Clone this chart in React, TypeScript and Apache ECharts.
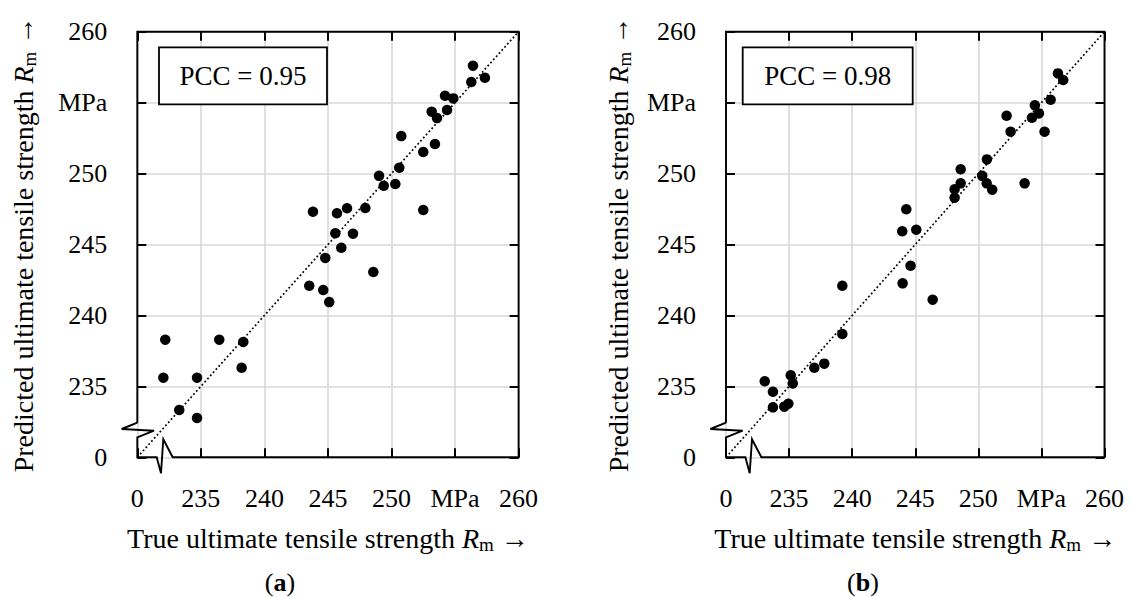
import React, { useEffect, useRef } from "react";
import * as echarts from "echarts";

// ---- data ----
const tickLabels = ["0", "235", "240", "245", "250", "MPa", "260"];
const axisMin = 230;
const axisMax = 260;
const axisStep = 5;
const panelLetters = ["a", "b"];
const pccValues = ["0.95", "0.98"];

const aTrue = [
  256.41, 257.35, 256.28, 254.21, 254.86, 254.37, 253.16, 253.58, 250.77, 253.42,
  252.5, 250.61, 249.02, 249.39, 250.3, 243.82, 245.71, 246.5, 247.94, 252.5,
  245.58, 246.97, 246.05, 244.79, 248.57, 243.53, 244.63, 245.1, 232.2, 236.45,
  238.34, 238.21, 232.05, 234.7, 233.3, 234.7,
];
const aPred = [
  257.6, 256.75, 256.45, 255.48, 255.3, 254.48, 254.36, 253.91, 252.64, 252.08,
  251.52, 250.41, 249.84, 249.14, 249.26, 247.31, 247.2, 247.55, 247.57, 247.43,
  245.79, 245.76, 244.77, 244.05, 243.06, 242.09, 241.79, 240.94, 238.29, 238.29,
  238.13, 236.31, 235.61, 235.61, 233.33, 232.77,
];
const bTrue = [
  256.31, 256.73, 255.73, 254.48, 254.8, 254.25, 252.24, 252.56, 255.25, 250.68,
  248.6, 250.31, 248.6, 250.66, 251.1, 253.67, 248.12, 248.12, 244.29, 243.97,
  245.08, 244.63, 244.0, 246.38, 239.22, 239.22, 237.0, 237.79, 235.13, 235.29,
  233.07, 233.72, 233.72, 234.62, 234.94,
];
const bPred = [
  257.06, 256.59, 255.2, 254.81, 254.24, 253.93, 254.07, 252.95, 252.95, 251.0,
  250.3, 249.84, 249.31, 249.31, 248.86, 249.31, 248.89, 248.3, 247.48, 245.93,
  246.04, 243.5, 242.26, 241.11, 242.09, 238.69, 236.31, 236.6, 235.78, 235.21,
  235.36, 234.62, 233.52, 233.57, 233.78,
];

// ---- layout / style ----
const FONT = "Liberation Serif, DejaVu Serif, serif";
const grids = [
  { left: 137.3, top: 31.7, width: 381.3, height: 425.6, yNameGap: 98, boxX: 159, boxW: 168, capX: 280 },
  { left: 726, top: 31.7, width: 378.5, height: 425.6, yNameGap: 92, boxX: 742.7, boxW: 170, capX: 863 },
];

const fmt = (v: number) => tickLabels[Math.round((v - axisMin) / axisStep)] ?? "";

const nameStyle = {
  fontFamily: FONT,
  fontSize: 28,
  color: "#000",
  lineHeight: 32,
  rich: {
    i: { fontFamily: FONT, fontSize: 28, fontStyle: "italic", color: "#000", lineHeight: 32 },
    s: { fontFamily: FONT, fontSize: 19, color: "#000", lineHeight: 18, verticalAlign: "bottom" },
  },
};

function frameGraphic(g: typeof grids[number]) {
  const ox = g.left;
  const oy = g.top + g.height;
  const tx = g.left + g.width;
  const ty = g.top;
  const pts = [
    [ox, oy - 34.6],
    [ox, ty],
    [tx, ty],
    [tx, oy],
    [ox + 35.4, oy],
    [ox + 26, oy - 18],
    [ox + 23.7, oy + 16],
    [ox + 19.4, oy],
    [ox, oy],
    [ox, oy - 20],
    [ox + 16.7, oy - 26.6],
    [ox - 15.6, oy - 28.3],
    [ox, oy - 34.6],
  ];
  return {
    type: "polyline",
    z: 50,
    silent: true,
    shape: { points: pts },
    style: { stroke: "#000", lineWidth: 1.9, fill: null, lineJoin: "miter" },
  };
}

export default function App() {
  const ref = useRef<HTMLDivElement>(null);
  useEffect(() => {
    if (!ref.current) return;
    const chart = echarts.init(ref.current, undefined, { renderer: "svg" });

    const xAxis: any[] = [];
    const yAxis: any[] = [];
    const series: any[] = [];
    const graphic: any[] = [];
    const datasets = [
      [aTrue, aPred],
      [bTrue, bPred],
    ];

    grids.forEach((g, gi) => {
      const common = {
        type: "value",
        gridIndex: gi,
        min: axisMin,
        max: axisMax,
        interval: axisStep,
      };
      const tick = { show: true, inside: true, length: 9, lineStyle: { color: "#000", width: 2 } };
      xAxis.push({
        ...common,
        position: "bottom",
        axisLine: { show: false },
        axisTick: tick,
        splitLine: { show: true, lineStyle: { color: "#d9d9d9", width: 1.6 } },
        axisLabel: {
          show: true,
          formatter: fmt,
          margin: 28,
          fontFamily: FONT,
          fontSize: 26,
          color: "#000",
          showMinLabel: true,
          showMaxLabel: true,
        },
        name: "True ultimate tensile strength {i|R}{s|m} →",
        nameLocation: "middle",
        nameGap: 65,
        nameTextStyle: nameStyle,
      });
      xAxis.push({
        ...common,
        position: "top",
        axisLine: { show: false },
        axisTick: tick,
        splitLine: { show: false },
        axisLabel: { show: false },
      });
      yAxis.push({
        ...common,
        position: "left",
        axisLine: { show: false },
        axisTick: tick,
        splitLine: { show: true, lineStyle: { color: "#d9d9d9", width: 1.6 } },
        axisLabel: {
          show: true,
          formatter: fmt,
          margin: 30,
          fontFamily: FONT,
          fontSize: 26,
          color: "#000",
          showMinLabel: true,
          showMaxLabel: true,
        },
        name: "Predicted ultimate tensile strength {i|R}{s|m} →",
        nameLocation: "middle",
        nameGap: g.yNameGap,
        nameTextStyle: nameStyle,
      });
      yAxis.push({
        ...common,
        position: "right",
        axisLine: { show: false },
        axisTick: tick,
        splitLine: { show: false },
        axisLabel: { show: false },
      });

      const [xs, ys] = datasets[gi];
      series.push({
        type: "line",
        xAxisIndex: gi * 2,
        yAxisIndex: gi * 2,
        data: [
          [axisMin, axisMin],
          [axisMax, axisMax],
        ],
        symbol: "none",
        silent: true,
        z: 3,
        lineStyle: { color: "#000", width: 1.7, type: [1.8, 2.4], cap: "butt" },
      });
      series.push({
        type: "scatter",
        xAxisIndex: gi * 2,
        yAxisIndex: gi * 2,
        data: xs.map((x, i) => [x, ys[i]]),
        symbol: "circle",
        symbolSize: 10.5,
        z: 4,
        itemStyle: { color: "#000", opacity: 1 },
      });

      graphic.push(frameGraphic(g));
      graphic.push({
        type: "rect",
        z: 60,
        silent: true,
        shape: { x: g.boxX, y: 47.3, width: g.boxW, height: 57 },
        style: { fill: "#fff", stroke: "#000", lineWidth: 1.8 },
      });
      graphic.push({
        type: "text",
        z: 61,
        silent: true,
        style: {
          x: g.boxX + g.boxW / 2,
          y: 76,
          text: "PCC = " + pccValues[gi],
          fontFamily: FONT,
          fontSize: 27,
          fill: "#000",
          align: "center",
          verticalAlign: "middle",
        },
      });
      graphic.push({
        type: "text",
        z: 61,
        silent: true,
        style: {
          x: g.capX,
          y: 582,
          text: "({b|" + panelLetters[gi] + "})",
          fontFamily: FONT,
          fontSize: 26,
          fill: "#000",
          align: "center",
          verticalAlign: "middle",
          rich: { b: { fontFamily: FONT, fontSize: 26, fontWeight: "bold", fill: "#000" } },
        },
      });
    });

    chart.setOption({
      animation: false,
      backgroundColor: "#fff",
      grid: grids.map((g) => ({ left: g.left, top: g.top, width: g.width, height: g.height })),
      xAxis,
      yAxis,
      series,
      graphic,
    });
    return () => chart.dispose();
  }, []);
  return (
    <div
      ref={ref}
      style={{ position: "absolute", left: 0, top: 0, width: 1131, height: 597 }}
    />
  );
}
